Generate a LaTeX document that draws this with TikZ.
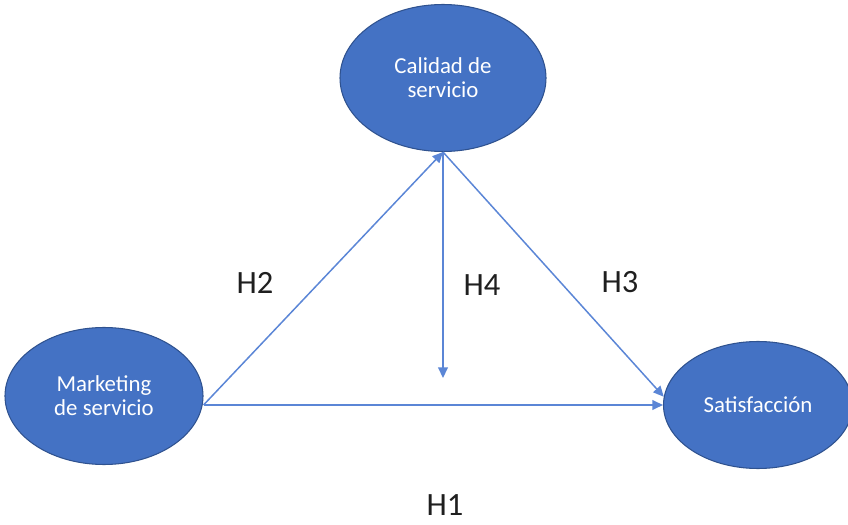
\documentclass[tikz,border=0pt]{standalone}
\usepackage{fontspec}
\setmainfont{Carlito}
\usetikzlibrary{arrows.meta, positioning, calc, shapes.geometric}

\definecolor{ovalblue}{HTML}{4472C4}
\definecolor{ovalline}{HTML}{2F528F}
\definecolor{linkblue}{HTML}{5B86D6}
\definecolor{hyptext}{HTML}{1F1F1F}

\begin{document}
\begin{tikzpicture}[
  every node/.style={font=\fontsize{13}{13.5}\selectfont},
  oval/.style={ellipse, draw=ovalline, line width=0.6pt, fill=ovalblue, text=white, align=center, inner sep=0pt},
  arr/.style={-{Triangle[length=6pt, width=5.5pt]}, line width=0.85pt, draw=linkblue},
  hyp/.style={font=\fontsize{18.5}{20}\selectfont, text=hyptext}
]
  \useasboundingbox (0,0) rectangle (16.96,10.5);
  \node[oval, minimum width=4.12cm, minimum height=2.94cm] (C) at (8.86,8.94) {Calidad de\\servicio};
  \node[oval, minimum width=3.96cm, minimum height=2.74cm] (M) at (2.08,2.58) {Marketing\\de servicio};
  \node[oval, minimum width=3.78cm, minimum height=2.54cm] (S) at (15.16,2.40) {Satisfacción};
  \coordinate (mod) at (C.south |- 0,2.94);
  \draw[arr] (M.east |- S.west) -- (S.west);
  \draw[arr] (M.east |- S.west) -- (C.south);
  \draw[arr] (C.south) -- (S.175);
  \draw[arr] (C.south) -- (mod);
  \node[hyp] (h1) at (8.90,0.40) {H1};
  \node[hyp] (h2) at (5.10,4.84) {H2};
  \node[hyp] (h3) at (12.40,4.86) {H3};
  \node[hyp] (h4) at (9.64,4.80) {H4};
\end{tikzpicture}
\end{document}
